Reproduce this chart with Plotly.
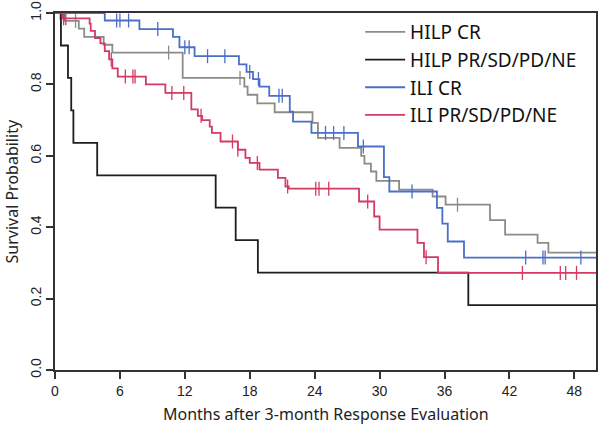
import numpy as np
import plotly.graph_objects as go

# Kaplan-Meier step curves (months, survival probability)
hilp_cr_t = [0, 0.8, 2.2, 2.7, 4.5, 5.3, 11.8, 17.5, 17.8, 18.7, 20.3, 23.8, 24.3, 26.3,
             28.3, 28.6, 29.2, 29.7, 31.8, 34.9, 36.1, 40.2, 41.6, 44.6, 45.6, 50]
hilp_cr_s = [1.0, 0.978, 0.956, 0.933, 0.911, 0.889, 0.818, 0.794, 0.771, 0.747, 0.722, 0.692, 0.65, 0.622,
             0.6, 0.578, 0.556, 0.53, 0.505, 0.486, 0.463, 0.42, 0.379, 0.356, 0.329, 0.329]
hilp_cr_cens = [1.9, 10.5, 17.1, 37.2]

hilp_pr_t = [0, 0.55, 1.2, 1.5, 1.7, 3.9, 14.85, 16.7, 18.75, 38.2, 50]
hilp_pr_s = [1.0, 0.909, 0.818, 0.727, 0.636, 0.545, 0.455, 0.364, 0.273, 0.182, 0.182]
hilp_pr_cens = [0.5]

ili_cr_t = [0, 4.6, 7.8, 10.9, 11.5, 12.9, 17.0, 17.7, 18.3, 18.9, 19.8, 21.7, 22.0, 23.7,
            28.0, 30.4, 30.9, 35.3, 35.8, 36.3, 37.8, 50]
ili_cr_s = [1.0, 0.979, 0.955, 0.933, 0.904, 0.879, 0.856, 0.835, 0.815, 0.794, 0.768, 0.724, 0.696, 0.664,
            0.626, 0.54, 0.50, 0.454, 0.41, 0.36, 0.315, 0.315]
ili_cr_cens = [0.9, 5.7, 6.0, 6.8, 9.5, 12.0, 12.4, 14.1, 15.7, 18.0, 18.8, 20.7, 21.0,
               25.0, 25.75, 26.7, 28.5, 33.0, 43.5, 45.1, 45.3, 48.6]

ili_pr_t = [0, 0.7, 3.2, 3.3, 3.7, 4.2, 4.6, 5.0, 5.3, 5.8, 8.4, 10.2, 12.6, 13.2, 13.6, 14.3, 14.5,
            15.3, 16.9, 17.6, 18.0, 18.9, 20.6, 21.3, 21.6, 28.1, 29.5, 30.0, 33.5, 34.1, 35.4, 50]
ili_pr_s = [1.0, 0.985, 0.97, 0.95, 0.93, 0.915, 0.893, 0.87, 0.845, 0.822, 0.8, 0.776, 0.73, 0.712, 0.70,
            0.682, 0.664, 0.64, 0.617, 0.594, 0.58, 0.561, 0.538, 0.514, 0.508, 0.472, 0.43, 0.393,
            0.356, 0.316, 0.272, 0.272]
ili_pr_cens = [0.8, 1.0, 5.2, 6.5, 7.2, 7.4, 10.8, 11.9, 13.5, 16.4, 16.9, 18.7, 21.5,
               24.1, 24.4, 25.3, 28.9, 34.3, 43.2, 46.7, 47.2, 48.2]

x_ticks = [0, 6, 12, 18, 24, 30, 36, 42, 48]
y_ticks = [0.0, 0.2, 0.4, 0.6, 0.8, 1.0]

series = [
    ("HILP CR", hilp_cr_t, hilp_cr_s, hilp_cr_cens, "#8c8c86"),
    ("HILP PR/SD/PD/NE", hilp_pr_t, hilp_pr_s, hilp_pr_cens, "#1e1e1e"),
    ("ILI CR", ili_cr_t, ili_cr_s, ili_cr_cens, "#4a6fc8"),
    ("ILI PR/SD/PD/NE", ili_pr_t, ili_pr_s, ili_pr_cens, "#d43a63"),
]


def step_value(t, s, x):
    # survival at time x from a right-continuous step function
    i = np.searchsorted(np.array(t), x, side="right") - 1
    return s[max(i, 0)]


fig = go.Figure()
for name, t, s, cens, color in series:
    fig.add_trace(go.Scatter(
        x=t, y=s, mode="lines", name=name,
        line=dict(color=color, width=1.8, shape="hv"),
    ))
    fig.add_trace(go.Scatter(
        x=cens, y=[step_value(t, s, c) for c in cens], mode="markers",
        showlegend=False, hoverinfo="skip",
        marker=dict(symbol="line-ns-open", size=10, color=color,
                    line=dict(color=color, width=1.3)),
    ))

title_font = dict(family="Noto Sans, Open Sans", size=16, color="#222")

fig.update_layout(
    width=602, height=428,
    margin=dict(l=55, r=6, t=13, b=58, autoexpand=False),
    paper_bgcolor="white", plot_bgcolor="white",
    font=dict(family="Liberation Sans, Arial", size=14, color="#222"),
    legend=dict(
        x=0.564, y=1.0, xanchor="left", yanchor="top",
        font=dict(family="Noto Sans, Open Sans", size=19, color="#111"),
        bgcolor="rgba(0,0,0,0)", itemwidth=40, tracegroupgap=0,
    ),
    xaxis=dict(
        range=[0, 50], tickvals=x_ticks, ticks="outside", ticklen=7, tickwidth=1.5,
        tickcolor="#333", showline=True, linecolor="#333", linewidth=1.5, mirror=True,
        showgrid=False, zeroline=False, ticklabelstandoff=0, automargin=False,
    ),
    yaxis=dict(
        range=[0, 1], tickvals=y_ticks, tickformat=".1f", tickangle=-90, ticks="outside",
        ticklen=7, tickwidth=1.5, tickcolor="#333", showline=True, linecolor="#333",
        linewidth=1.5, mirror=True, showgrid=False, zeroline=False, ticklabelstandoff=0,
        automargin=False,
    ),
    annotations=[
        dict(text="Months after 3-month Response Evaluation", xref="paper", yref="paper",
             x=0.5, y=-0.123, xanchor="center", yanchor="middle", showarrow=False,
             font=title_font),
        dict(text="Survival Probability", xref="paper", yref="paper",
             x=-0.0795, y=0.5, xanchor="center", yanchor="middle", showarrow=False,
             textangle=-90, font=title_font),
    ],
)

# drop the page's default 8px body margin so the figure fills the window
fig.write_html("out.html", config={"displayModeBar": False},
               post_script="document.body.style.margin = '0';")
